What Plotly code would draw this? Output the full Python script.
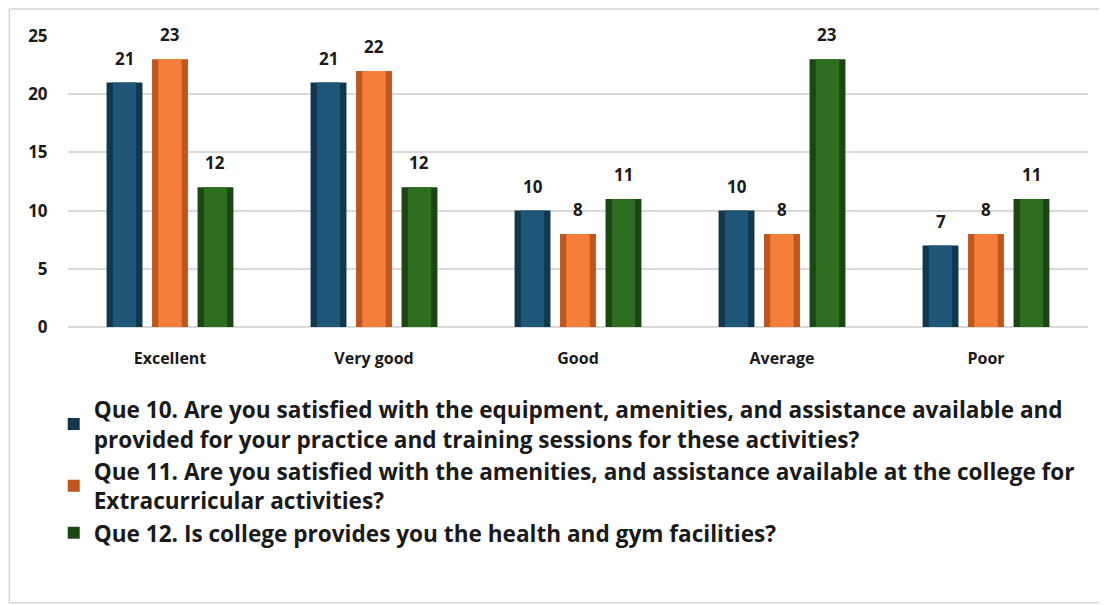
import plotly.graph_objects as go

categories = ["Excellent", "Very good", "Good", "Average", "Poor"]
que10 = [21, 21, 10, 10, 7]
que11 = [23, 22, 8, 8, 8]
que12 = [12, 12, 11, 23, 11]
series_names = [
    "Que 10. Are you satisfied with the equipment, amenities, and assistance available and<br>provided for your practice and training sessions for these activities?",
    "Que 11. Are you satisfied with the amenities, and assistance available at the college for<br>Extracurricular activities?",
    "Que 12. Is college provides you the health and gym facilities?",
]
y_ticks = [0, 5, 10, 15, 20, 25]

series = [que10, que11, que12]
outer_colors = ["#10374d", "#bf561d", "#1a4712"]
inner_colors = ["#1d5676", "#f57f3a", "#2e6d21"]
offsets = [-0.223, 0.0, 0.223]
bar_w = 0.176

xs = list(range(len(categories)))
fig = go.Figure()
FONT = "Open Sans"

for vals, name, oc, ic, off in zip(series, series_names, outer_colors, inner_colors, offsets):
    fig.add_trace(go.Bar(
        x=[x + off for x in xs], y=vals, width=bar_w, name=name,
        marker=dict(color=oc, line=dict(width=0)),
        hoverinfo="y", showlegend=True,
    ))
    fig.add_trace(go.Bar(
        x=[x + off for x in xs], y=vals, width=bar_w * 0.65, name=name,
        marker=dict(color=ic, line=dict(width=0)),
        hoverinfo="skip", showlegend=False,
    ))

annotations = []
for vals, off in zip(series, offsets):
    for x, v in zip(xs, vals):
        annotations.append(dict(
            x=x + off, y=v, xref="x", yref="y", text=f"<b>{v}</b>",
            showarrow=False, yanchor="bottom", yshift=11,
            font=dict(family=FONT, size=17, color="#1a1a1a"),
        ))

fig.update_layout(
    width=1099, height=597,
    barmode="overlay",
    paper_bgcolor="white", plot_bgcolor="white",
    margin=dict(l=60, r=19, t=28, b=278, autoexpand=False),
    font=dict(family=FONT, color="#1a1a1a"),
    annotations=annotations,
    showlegend=True,
    legend=dict(
        x=-0.014, y=-0.21, xanchor="left", yanchor="top",
        orientation="v", traceorder="normal",
        font=dict(family=FONT, size=22.6, color="#1a1a1a", weight="bold"),
        tracegroupgap=4, itemsizing="constant", bgcolor="rgba(0,0,0,0)",
    ),
    shapes=[dict(
        type="rect", xref="paper", yref="paper",
        x0=-0.0575, x1=1.0118, y0=-0.948, y1=1.093,
        line=dict(color="#d6d6d6", width=1.5), fillcolor="rgba(0,0,0,0)",
        layer="below",
    )],
)

fig.update_xaxes(
    range=[-0.5, len(categories) - 0.5],
    tickmode="array", tickvals=xs, ticktext=[f"<b>{c}</b>" for c in categories],
    tickfont=dict(family=FONT, size=16, color="#1a1a1a"),
    ticks="outside", ticklen=17, tickcolor="rgba(0,0,0,0)",
    showgrid=False, zeroline=False, showline=False,
)
fig.update_yaxes(
    range=[0, 25],
    tickmode="array", tickvals=y_ticks, ticktext=[f"<b>{t}</b>" for t in y_ticks],
    tickfont=dict(family=FONT, size=17, color="#1a1a1a"),
    ticks="outside", ticklen=16, tickcolor="rgba(0,0,0,0)",
    showgrid=True, gridcolor="#d9d9d9", gridwidth=1.5,
    zeroline=True, zerolinecolor="#d9d9d9", zerolinewidth=1.5,
    showline=False,
)

fig.write_html("out.html")
